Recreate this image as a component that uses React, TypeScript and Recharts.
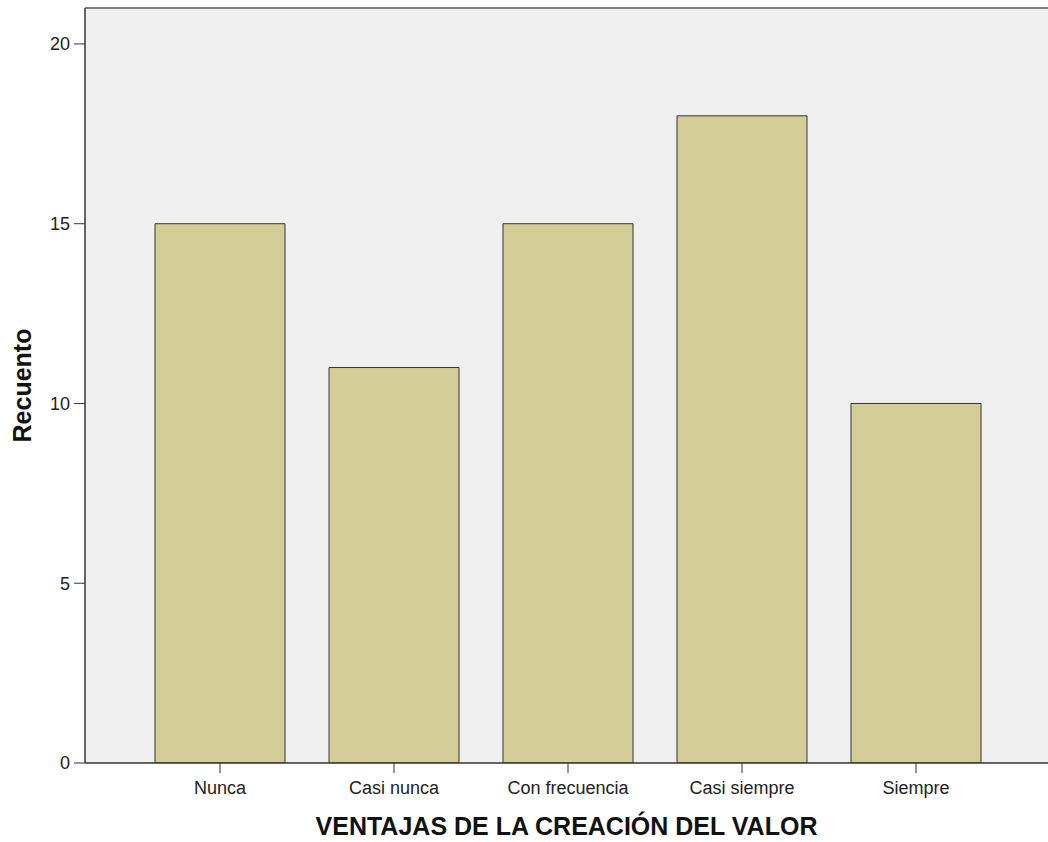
import { BarChart, Bar, XAxis, YAxis, CartesianGrid, ReferenceLine } from 'recharts';

const categorias = ['Nunca', 'Casi nunca', 'Con frecuencia', 'Casi siempre', 'Siempre'];
const recuento = [15, 11, 15, 18, 10];
const ticksY = [0, 5, 10, 15, 20];

const data = categorias.map((c, i) => ({ categoria: c, recuento: recuento[i] }));

const fuente = '"Liberation Sans", Arial, sans-serif';

export default function App() {
  return (
    <div style={{ position: 'absolute', left: 0, top: 0, fontFamily: fuente }}>
      <BarChart
        width={1048}
        height={842}
        data={data}
        margin={{ top: 8, right: 0, left: 0, bottom: 0 }}
        barSize={130}
      >
        <CartesianGrid fill="#f0f0f0" horizontal={false} vertical={false} />
        <XAxis
          dataKey="categoria"
          height={79}
          padding={{ left: 48, right: 45 }}
          axisLine={{ stroke: '#333', strokeWidth: 1.5 }}
          tickLine={{ stroke: '#333' }}
          tickSize={10}
          tickMargin={8}
          tick={{ fill: '#222', fontSize: 18, fontFamily: fuente }}
          label={{
            value: 'VENTAJAS DE LA CREACIÓN DEL VALOR',
            position: 'insideBottom',
            offset: 7,
            fill: '#111',
            fontSize: 25,
            fontWeight: 'bold',
            fontFamily: fuente,
          }}
        />
        <YAxis
          width={85}
          domain={[0, 21]}
          ticks={ticksY}
          allowDataOverflow
          axisLine={{ stroke: '#333', strokeWidth: 1.5 }}
          tickLine={{ stroke: '#333' }}
          tickSize={11}
          tickMargin={4}
          tick={{ fill: '#222', fontSize: 18, fontFamily: fuente }}
          label={{
            value: 'Recuento',
            angle: -90,
            position: 'insideLeft',
            offset: 22,
            fill: '#111',
            fontSize: 25,
            fontWeight: 'bold',
            fontFamily: fuente,
            style: { textAnchor: 'middle' },
          }}
        />
        <ReferenceLine y={21} stroke="#808080" strokeWidth={2} />
        <Bar dataKey="recuento" fill="#d3ce98" stroke="#333" strokeWidth={1} isAnimationActive={false} />
      </BarChart>
    </div>
  );
}
